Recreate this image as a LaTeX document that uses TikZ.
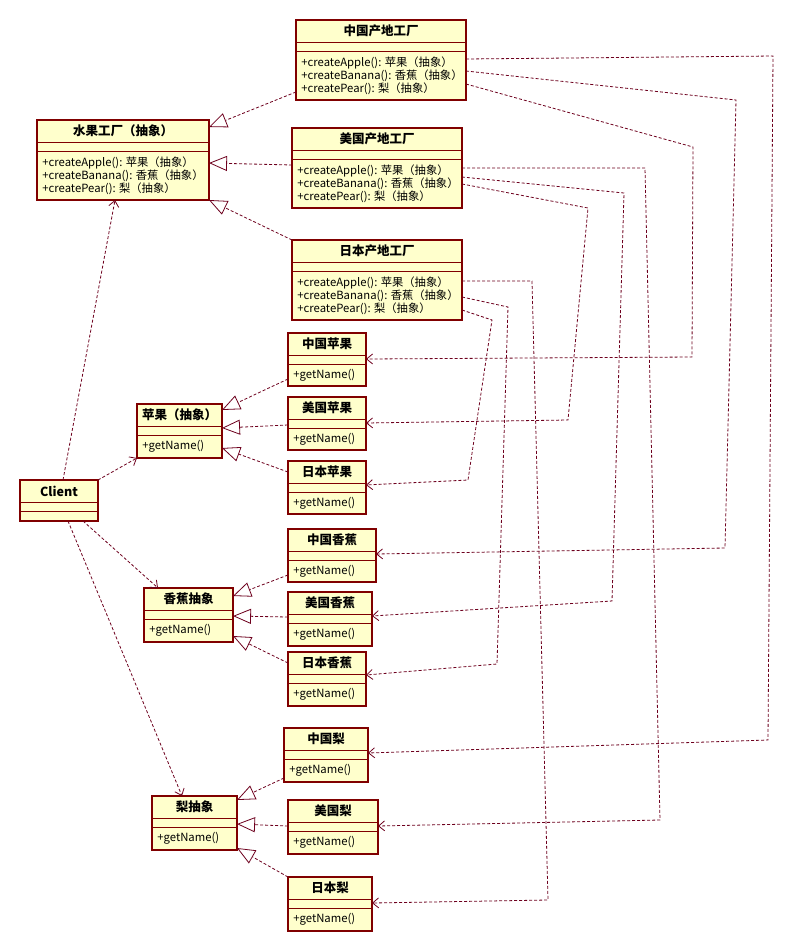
\documentclass[tikz,border=0pt]{standalone}
\usepackage{fontspec}
\setmainfont{Noto Sans CJK SC}
\usepackage{tikz}
\usetikzlibrary{
	arrows.meta,
	calc,
	positioning
}
\definecolor{umlBorder}{RGB}{128,0,0}
\definecolor{umlFill}{RGB}{255,255,204}
\definecolor{umlLine}{RGB}{110,0,30}
\tikzset{every path/.append style={line width=0.8pt}}
\tikzset{
	classbox/.style={draw=umlBorder,fill=umlFill,line width=1.1pt,inner sep=0pt,outer sep=0pt,anchor=north west},
	classline/.style={draw=umlBorder,line width=0.9pt},
	classtitle/.style={font=\fontsize{12.5}{14}\selectfont\bfseries,inner sep=0pt},
	classops/.style={font=\fontsize{11.3}{13}\selectfont,align=left,anchor=north west,inner sep=0pt,execute at begin node=\vphantom{果}},
	dep/.style={umlLine,dash pattern=on 3pt off 2pt,-{Straight Barb[length=6pt,width=10pt]}},
	realize/.style={umlLine,dash pattern=on 3pt off 2pt,-{Triangle[length=18pt,width=15pt,fill=white]}}
}
\newcommand{\umlClass}[7]{
	\node[classbox,minimum width=#4pt,minimum height=#5pt] (#1) at (#2,#3) {};
	\draw[classline] ($(#1.north west)+(0,22)$) -- ($(#1.north east)+(0,22)$);
	\draw[classline] ($(#1.north west)+(0,31)$) -- ($(#1.north east)+(0,31)$);
	\node[classtitle] (#1t) at ($(#1.north)+(0,11)$) {#6};
	\node[classops] (#1o) at ($(#1.north west)+(5,36)$) {#7};
}

\begin{document}
\begin{tikzpicture}[x=1pt,y=-1pt]
	\useasboundingbox[fill=white] (0,0) rectangle (793,951);
	
	% Factories
	\umlClass{fruitF}{37}{120}{172}{80}{水果工厂（抽象）}{+createApple(): 苹果（抽象）\\+createBanana(): 香蕉（抽象）\\+createPear(): 梨（抽象）}
	\umlClass{cnF}{296}{20}{170}{80}{中国产地工厂}{+createApple(): 苹果（抽象）\\+createBanana(): 香蕉（抽象）\\+createPear(): 梨（抽象）}
	\umlClass{usF}{292}{128}{170}{80}{美国产地工厂}{+createApple(): 苹果（抽象）\\+createBanana(): 香蕉（抽象）\\+createPear(): 梨（抽象）}
	\umlClass{jpF}{292}{240}{170}{80}{日本产地工厂}{+createApple(): 苹果（抽象）\\+createBanana(): 香蕉（抽象）\\+createPear(): 梨（抽象）}
	
	% Products
	\umlClass{client}{20}{480}{78}{41}{Client}{}
	\umlClass{appleA}{137}{404}{85}{54}{苹果（抽象）}{+getName()}
	\umlClass{cnApple}{288}{333}{78}{53}{中国苹果}{+getName()}
	\umlClass{usApple}{288}{397}{78}{53}{美国苹果}{+getName()}
	\umlClass{jpApple}{288}{461}{78}{53}{日本苹果}{+getName()}
	\umlClass{bananaA}{144}{588}{89}{54}{香蕉抽象}{+getName()}
	\umlClass{cnBanana}{288}{529}{88}{53}{中国香蕉}{+getName()}
	\umlClass{usBanana}{288}{592}{84}{54}{美国香蕉}{+getName()}
	\umlClass{jpBanana}{288}{652}{78}{54}{日本香蕉}{+getName()}
	\umlClass{pearA}{152}{796}{85}{54}{梨抽象}{+getName()}
	\umlClass{cnPear}{284}{728}{84}{54}{中国梨}{+getName()}
	\umlClass{usPear}{288}{800}{90}{54}{美国梨}{+getName()}
	\umlClass{jpPear}{288}{877}{84}{54}{日本梨}{+getName()}
	
	% Realizations
	\draw[realize] ($(cnF.north west)+(0,72)$) -- ($(fruitF.north east)+(0,7)$);
	\draw[realize] ($(usF.north west)+(0,37)$) -- ($(fruitF.north east)+(0,43)$);
	\draw[realize] (jpF.north west) -- (fruitF.south east);
	\draw[realize] ($(cnApple.north west)+(0,46)$) -- ($(appleA.north east)+(0,6)$);
	\draw[realize] ($(usApple.north west)+(0,28)$) -- ($(appleA.north east)+(0,24)$);
	\draw[realize] ($(jpApple.north west)+(0,11)$) -- ($(appleA.north east)+(0,44)$);
	\draw[realize] ($(cnBanana.north west)+(0,46)$) -- ($(bananaA.north east)+(0,8)$);
	\draw[realize] ($(usBanana.north west)+(0,25)$) -- ($(bananaA.north east)+(0,28)$);
	\draw[realize] ($(jpBanana.north west)+(0,11)$) -- ($(bananaA.north east)+(0,48)$);
	\draw[realize] ($(cnPear.north west)+(0,50)$) -- ($(pearA.north east)+(0,4)$);
	\draw[realize] ($(usPear.north west)+(0,26)$) -- ($(pearA.north east)+(0,28)$);
	\draw[realize] (jpPear.north west) -- ($(pearA.north east)+(0,52)$);
	
	% Client uses
	\draw[dep] ($(client.north west)+(43,0)$) -- ($(fruitF.south west)+(78,0)$);
	\draw[dep] (client.north east) -- (appleA.south west);
	\draw[dep] ($(client.south west)+(63,0)$) -- ($(bananaA.north west)+(14,0)$);
	\draw[dep] ($(client.south west)+(48,0)$) -- ($(pearA.north west)+(30,0)$);
	
	% Factory creates
	\draw[dep] ($(cnF.north east)+(0,39)$) -- (773,56) -- (768,740) -- ($(cnPear.north east)+(0,25)$);
	\draw[dep] ($(cnF.north east)+(0,51)$) -- (736,100) -- (725,548) -- ($(cnBanana.north east)+(0,25)$);
	\draw[dep] ($(cnF.north east)+(0,64)$) -- (693,147) -- (692,357) -- ($(cnApple.north east)+(0,26)$);
	\draw[dep] ($(usF.north east)+(0,40)$) -- (645,168) -- (660,820) -- ($(usPear.north east)+(0,26)$);
	\draw[dep] ($(usF.north east)+(0,49)$) -- (624,193) -- (612,601) -- ($(usBanana.north east)+(0,24)$);
	\draw[dep] ($(usF.north east)+(0,56)$) -- (588,208) -- (568,420) -- ($(usApple.north east)+(0,26)$);
	\draw[dep] ($(jpF.north east)+(0,41)$) -- (532,281) -- (548,900) -- ($(jpPear.north east)+(0,26)$);
	\draw[dep] ($(jpF.north east)+(0,57)$) -- (508,307) -- (497,664) -- ($(jpBanana.north east)+(0,23)$);
	\draw[dep] ($(jpF.north east)+(0,70)$) -- (492,320) -- (468,480) -- ($(jpApple.north east)+(0,24)$);
\end{tikzpicture}
\end{document}
